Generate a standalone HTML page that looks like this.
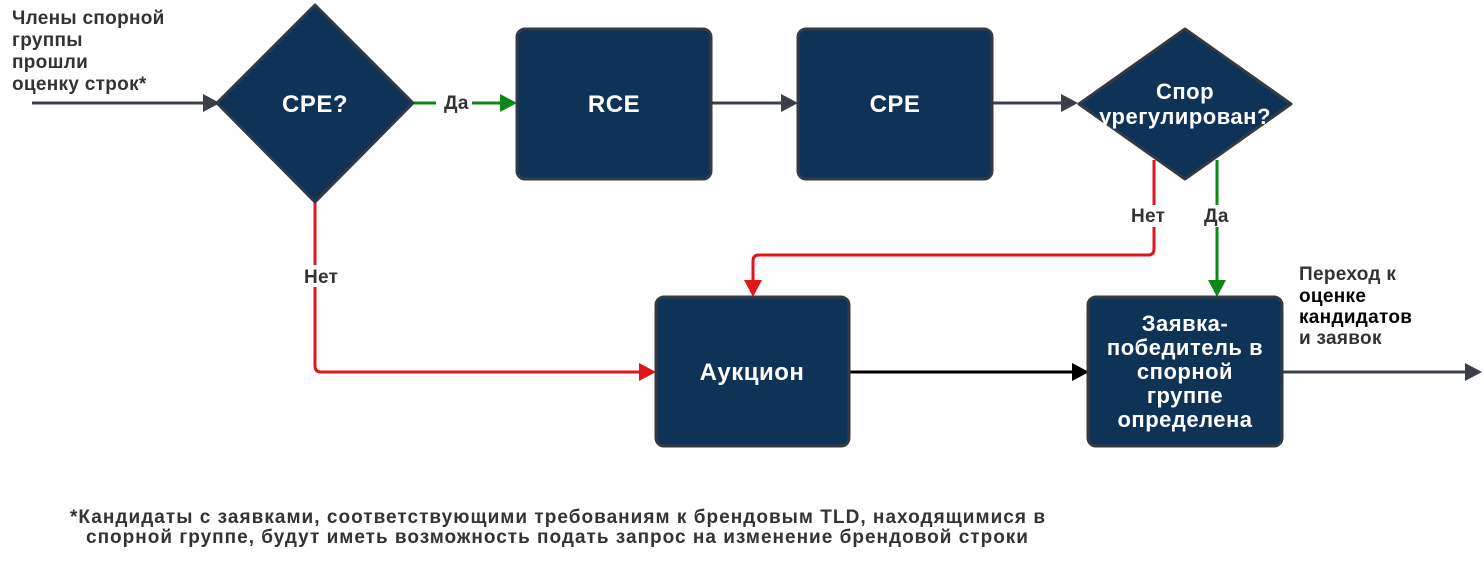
<!DOCTYPE html>
<html><head><meta charset="utf-8"><style>
body{margin:0;background:#fff;width:1484px;height:560px;overflow:hidden;font-family:"Liberation Sans",sans-serif;}
</style></head><body>
<svg width="1484" height="560" xmlns="http://www.w3.org/2000/svg" font-family="Liberation Sans, sans-serif" font-weight="bold">
<g stroke-width="3" fill="none">
<line x1="32" y1="103" x2="205" y2="103" stroke="#3a3f48"/>
<line x1="414" y1="103" x2="505" y2="103" stroke="#0a8a14"/>
<line x1="711" y1="103" x2="786" y2="103" stroke="#3a3f48"/>
<line x1="992" y1="103" x2="1066" y2="103" stroke="#3a3f48"/>
<path d="M315 203 V366 Q315 372 321 372 H643" stroke="#e0161b"/>
<path d="M1154 160 V249 Q1154 255 1148 255 H759 Q753 255 753 261 V285" stroke="#e0161b"/>
<line x1="1217" y1="160" x2="1217" y2="285" stroke="#0a8a14"/>
<line x1="849" y1="372" x2="1076" y2="372" stroke="#000"/>
<line x1="1282" y1="372" x2="1470" y2="372" stroke="#3a3f48"/>
</g>
<polygon points="203,94 220,103 203,112" fill="#3a3f48"/>
<polygon points="500,94 517,103 500,112" fill="#0a8a14"/>
<polygon points="781,94 798,103 781,112" fill="#3a3f48"/>
<polygon points="1061,94 1078,103 1061,112" fill="#3a3f48"/>
<polygon points="639,363 656,372 639,381" fill="#e0161b"/>
<polygon points="744,280 753,297 762,280" fill="#e0161b"/>
<polygon points="1208,280 1217,297 1226,280" fill="#0a8a14"/>
<polygon points="1072,363 1089,372 1072,381" fill="#000"/>
<polygon points="1465,363 1482,372 1465,381" fill="#3a3f48"/>
<g fill="#0f3357" stroke="#333a44" stroke-width="3" stroke-linejoin="round">
<polygon points="315,5 413,103 315,202 217,103"/>
<rect x="517" y="29" width="194" height="150" rx="8"/>
<rect x="798" y="29" width="194" height="150" rx="8"/>
<polygon points="1185,29 1291,104 1185,179 1079,104"/>
<rect x="656" y="297" width="193" height="149" rx="8"/>
<rect x="1088" y="297" width="194" height="149" rx="8"/>
</g>
<g fill="#fff" text-anchor="middle" font-size="24" letter-spacing="0.5">
<text x="315" y="112">CPE?</text>
<text x="614" y="112">RCE</text>
<text x="895" y="112">CPE</text>
<text x="1185" y="99" font-size="22">Спор</text>
<text x="1185" y="124" font-size="22">урегулирован?</text>
<text x="752" y="380">Аукцион</text>
<g font-size="22"><text x="1185" y="331">Заявка-</text><text x="1185" y="355">победитель в</text><text x="1185" y="379">спорной</text><text x="1185" y="403">группе</text><text x="1185" y="427">определена</text></g>
</g>
<g fill="#333" font-size="19" letter-spacing="0.3">
<text x="12" y="24">Члены спорной</text>
<text x="12" y="46">группы</text>
<text x="12" y="68">прошли</text>
<text x="12" y="90">оценку строк*</text>
<rect x="436" y="93" width="36" height="20" fill="#fff"/>
<text x="444" y="109">Да</text>
<rect x="300" y="265" width="45" height="22" fill="#fff"/>
<text x="304" y="283">Нет</text>
<rect x="1128" y="205" width="48" height="22" fill="#fff"/>
<text x="1131" y="222">Нет</text>
<rect x="1202" y="205" width="34" height="22" fill="#fff"/>
<text x="1204" y="222">Да</text>
<text x="1299" y="280">Переход к</text>
<text x="1299" y="302" fill="#000">оценке</text>
<text x="1299" y="323" fill="#000">кандидатов</text>
<text x="1299" y="344">и заявок</text>
</g>
<g fill="#333" font-size="19">
<text x="70" y="523" textLength="975" lengthAdjust="spacing">*Кандидаты с заявками, соответствующими требованиям к брендовым TLD, находящимися в</text>
<text x="86" y="543" textLength="942" lengthAdjust="spacing">спорной группе, будут иметь возможность подать запрос на изменение брендовой строки</text>
</g>
</svg>
</body></html>
